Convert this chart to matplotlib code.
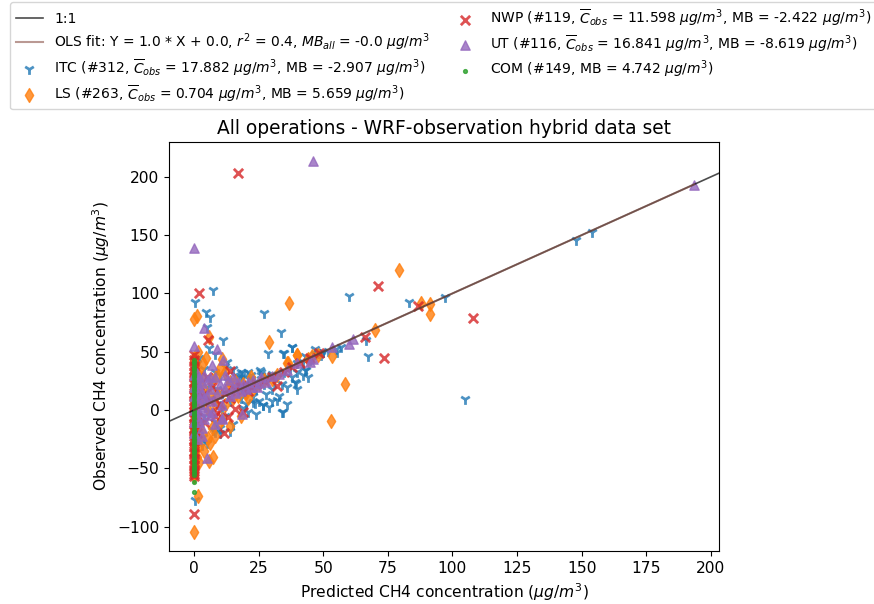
import matplotlib
matplotlib.use("Agg")
import matplotlib.pyplot as plt
import numpy as np

# (predicted, observed) pairs, ug/m3
itc_pts = [
    (148, 146), (153.9, 152.5), (105, 9.4), (97, 97), (83, 93), (60, 97.4),
    (66.7, 60), (67.4, 46), (7.4, 103), (0.4, 93), (27, 83), (33.7, 67),
    (38, 54), (35, 48.6), (28.7, 49), (11.2, 60), (5.8, 53), (5, 71),
    (6.2, 79.5), (4.7, 84), (12.8, 41), (39.5, 23), (43.4, 34), (32, 8.5),
    (26.7, 4.3), (23.6, 6), (21.3, 26.5), (17.8, 27), (25.6, 34), (34.5, -1.5),
    (7.4, -17), (10, -20), (3.5, -23), (0.4, -77), (30, 31), (32, 30),
    (35, 33), (37, 36), (40, 40), (42, 41), (45, 45), (47, 48), (49, 47),
    (50, 50), (52, 51), (55, 52), (57, 54), (28, 29), (26, 27), (24, 25),
    (22, 23), (20, 21), (18, 19), (15, 16), (13, 14), (45, 43), (43, 46),
    (2, 30), (3, 15), (4, -5), (5, 20), (6, 10), (7, 25), (8, -10), (9, 5),
    (10, 30), (11, 15), (12, -5), (13, 25), (14, 8), (15, -12), (16, 20),
    (17, 28), (18, 10), (19, 2), (20, 15), (21, -2), (22, 30), (23, 12),
    (24, 18), (25, 8), (27, 22), (28, 14), (29, 3), (30, 18), (31, 25),
    (33, 12), (36, 20), (38, 28), (1, 40), (2, -10), (3, 5), (1, 22),
    (4, 35), (6, -2), (8, 33), (10, -15), (12, 38), (14, -18), (16, 30),
    (18, 33), (20, 5), (24, -3), (26, 33), (30, 8), (3, -30), (5, -28),
    (2, 45), (8, 48), (9, 18), (11, 2), (0.5, 10), (0.5, -15), (1, 0),
    (15, 35), (19, 32), (21, 33), (42, 30), (44, 28), (40, 18), (36, 5),
    (34, 22), (47, 52), (48, 49), (50, 50), (55.4, 50), (38, 54), (34.5, 48.7),
    (40, 32.5), (43, 34), (39, 24), (34, -1.7), (23, 7), (26.7, 4), (8, -19),
    (18.6, 28), (22, 27), (26, 30), (0.5, 28), (1.5, -5), (0.3, 35),
]

ls_pts = [
    (79.5, 120.5), (36.6, 92), (88, 91.5), (91.5, 90.6), (91.5, 82), (70, 69),
    (58.5, 22), (53, -9.4), (53.5, 46), (40, 47), (45.7, 46), (29, 58),
    (0, -105), (1.5, -73.5), (0, -54), (0, -51), (1, 81), (0, 78),
    (5.8, 62.5), (4.7, 45), (11, 43.6), (12, 33), (7.4, -40), (5.8, -44),
    (5.4, -24), (6, -28), (36, 40), (30, 27), (25, 22), (20, 15), (15, 10),
    (18, -5), (10, -10), (13, 20), (8, 5), (22, 28), (16, 25), (9, 30),
    (3, -20), (4, -35), (2, -30), (14, -14), (11, -8), (6, 12), (7, -15),
    (36.4, 40), (40, 47), (0, 45), (0.5, 40), (1, 35), (0, 30), (0.5, 25),
    (1, 20), (0, 15), (0.5, 10), (1, 5), (0, 0), (0.5, -5), (1, -10),
    (0, -15), (0.5, -20), (1, -25), (0, -30), (0.5, -35), (1, -40),
    (0, -45), (0.5, -48), (0, -57), (0, 42), (1, 33), (0.5, 22), (1, 12),
    (0, 2), (1, -8), (0, -18), (1, -28), (0, -38), (2, 8), (3, 28),
    (2.5, -12), (4, 18), (5, 2), (7, 26), (9, 14), (12, 4), (14, 24),
    (17, 12), (19, 22), (21, 10), (23, 18), (27, 26), (32, 30), (44, 44),
    (48, 47), (3.5, 40), (8, -22), (10, 36), (2, -45), (1.5, 50),
]

nwp_pts = [
    (17, 203), (2, 100), (71.3, 106), (108, 79), (86.8, 89), (73.6, 44.4),
    (66.3, 63), (48.5, 49), (41, 40), (38, 37), (32, 21), (17.8, 19.7),
    (16, 0.8), (11.6, -19.7), (5.5, 60), (0, 47), (14, 33.5), (19, -1.7),
    (9, -2.5), (0, -89), (22, 20), (20, 18), (24, 22), (12, 15), (10, 5),
    (6, 8), (4, -10), (3, 12), (8, -5), (27, 25), (30, 28), (35, 33),
    (45, 45), (14, 10), (7, 20), (16, 17), (18, 21), (0, -57), (0, -52),
    (0, -47), (0, -42), (0, -37), (0, -32), (0, -27), (0, -22), (0, -17),
    (0, -12), (0, -7), (0, -2), (0, 3), (0, 8), (0, 13), (0, 18), (0, 23),
    (0, 28), (0, 33), (0, 38), (0, 43), (0, -55), (0, -45), (0, -35),
    (0, -25), (0, -15), (0, -5), (0, 5), (0, 15), (0, 25), (0, 35),
    (1, 0), (2, 15), (1, -20), (5, 28), (13, -6), (21, 16),
]

ut_pts = [
    (193.5, 193), (46, 214), (0, 139), (4, 70), (0, 55), (9, 52), (7, 38.5),
    (11.2, 43), (53.5, 54), (60, 56.5), (61.5, 60.6), (36, 34), (45, 41),
    (46, 44), (24.4, 19.7), (28, 24), (18.6, -3.4), (10.8, -7.7), (11, -7),
    (5, -41), (3, 23), (5.4, 25.6), (0, 30), (1, 25), (2, 20), (3, 15),
    (1, 10), (2, 5), (0, 0), (1, -5), (2, -10), (3, -15), (0, -20),
    (1, -25), (4, 10), (5, 0), (6, 18), (7, 8), (8, 28), (9, 14), (10, 22),
    (11, 4), (12, 18), (13, 26), (14, 12), (15, 20), (16, 15), (17, 24),
    (18, 16), (19, 22), (20, 18), (21, 24), (22, 20), (23, 26), (25, 23),
    (26, 28), (30, 29), (33, 31), (40, 40), (4, -8), (6, -4), (8, -12),
    (0, 12), (0, -10), (1, 32), (2, -2), (3, 3), (4, 30), (5, 12), (6, 28),
    (7, -2), (0, 20), (1, 15), (2, 28), (3, -22), (12, 30), (15, 28),
]

com_pts = [
    (0, 43), (0, 40), (0, 38), (0, 36), (0, 34), (0, 32), (0, 30), (0, 28),
    (0, 26), (0, 24), (0, 22), (0, 20), (0, 18), (0, 16), (0, 14), (0, 12),
    (0, 10), (0, 8), (0, 6), (0, 4), (0, 2), (0, 0), (0, -2), (0, -4),
    (0, -6), (0, -8), (0, -10), (0, -12), (0, -14), (0, -16), (0, -18),
    (0, -20), (0, -22), (0, -24), (0, -26), (0, -28), (0, -30), (0, -32),
    (0, -34), (0, -36), (0, -38), (0, -40), (0, -42), (0, -44), (0, -46),
    (0, -48), (0, -50), (0, -52), (0, -54), (0, -56), (0, -62), (0, -70),
    (0, 41), (0, 35), (0, 29), (0, 21), (0, 13), (0, 5), (0, -3), (0, -11),
    (0, -19), (0, -27), (0, -35), (0, -43), (0, -51),
]

series = [
    ("ITC", itc_pts, "1", "tab:blue",
     r"ITC (#312, $\overline{C}_{obs}$ = 17.882 $\mu g/m^3$, MB = -2.907 $\mu g/m^3$)"),
    ("LS", ls_pts, "d", "tab:orange",
     r"LS (#263, $\overline{C}_{obs}$ = 0.704 $\mu g/m^3$, MB = 5.659 $\mu g/m^3$)"),
    ("NWP", nwp_pts, "x", "tab:red",
     r"NWP (#119, $\overline{C}_{obs}$ = 11.598 $\mu g/m^3$, MB = -2.422 $\mu g/m^3$)"),
    ("UT", ut_pts, "^", "tab:purple",
     r"UT (#116, $\overline{C}_{obs}$ = 16.841 $\mu g/m^3$, MB = -8.619 $\mu g/m^3$)"),
    ("COM", com_pts, ".", "tab:green",
     r"COM (#149, MB = 4.742 $\mu g/m^3$)"),
]

fig = plt.figure(figsize=(8.74, 6.04), dpi=100)
ax = fig.add_axes([0.1934, 0.0877, 0.6293, 0.6773])

sizes = {"1": 60, "d": 50, "x": 45, "^": 45, ".": 30}
handles = []
all_x = []
for name, pts, mk, col, lab in series:
    x = [p[0] for p in pts]
    y = [p[1] for p in pts]
    all_x += x
    lw = 2 if mk in ("x", "1") else 1
    h = ax.scatter(x, y, marker=mk, color=col, s=sizes[mk], linewidths=lw,
                   alpha=0.8, label=lab, zorder=2)
    handles.append(h)

# 1:1 line over the whole axes, OLS fit over the data range
l11 = ax.axline((0, 0), slope=1, color="k", alpha=0.7, lw=1.2, label="1:1", zorder=3)
xs = np.array([min(all_x), max(all_x)])
lols, = ax.plot(xs, 1.0 * xs + 0.0, color="tab:brown", alpha=0.6, lw=1.5,
                label=r"OLS fit: Y = 1.0 * X + 0.0, $r^2$ = 0.4, $MB_{all}$ = -0.0 $\mu g/m^3$",
                zorder=4)

ax.set_title("All operations - WRF-observation hybrid data set", fontsize=13.4)
ax.set_xlabel(r"Predicted CH4 concentration ($\mu g/m^3$)", fontsize=11.2)
ax.set_ylabel(r"Observed CH4 concentration ($\mu g/m^3$)", fontsize=11.2)
ax.tick_params(labelsize=11.2)

ax.legend([l11, lols] + handles,
          [l11.get_label(), lols.get_label()] + [h.get_label() for h in handles],
          loc="upper left", bbox_to_anchor=(10 / 874, 1 - 2 / 604),
          bbox_transform=fig.transFigure, borderaxespad=0, ncol=2,
          fontsize=10, scatterpoints=1, labelspacing=0.35, columnspacing=1.5)

fig.savefig("out.png", dpi=100)
